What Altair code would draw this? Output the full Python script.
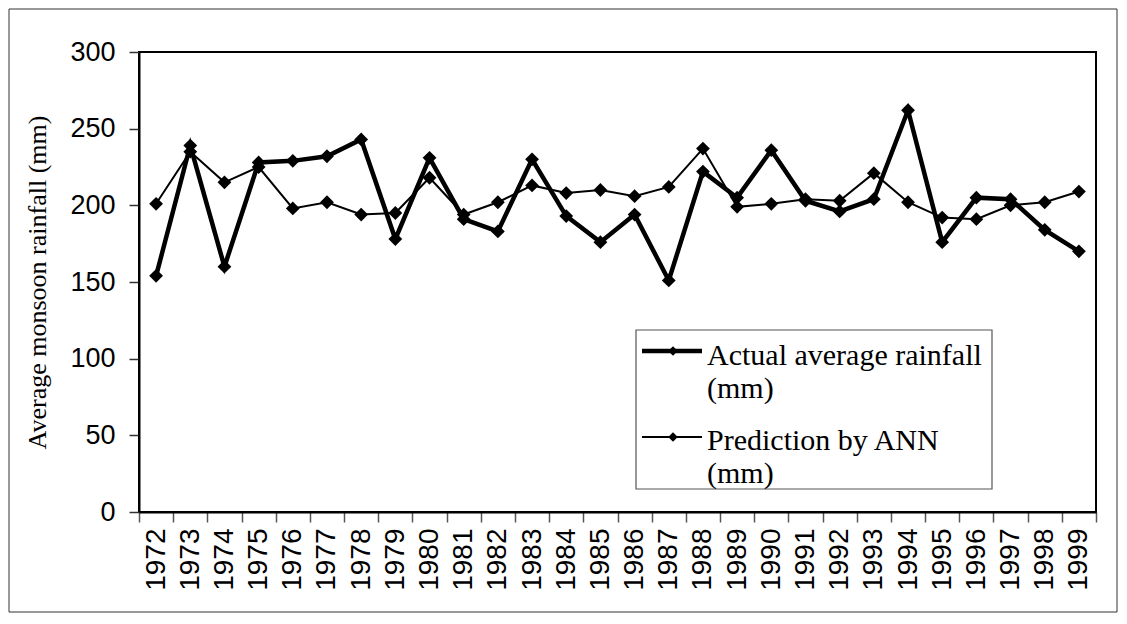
import altair as alt
import pandas as pd

# ---- data ----
years = ["1972", "1973", "1974", "1975", "1976", "1977", "1978", "1979", "1980",
         "1981", "1982", "1983", "1984", "1985", "1986", "1987", "1988", "1989",
         "1990", "1991", "1992", "1993", "1994", "1995", "1996", "1997", "1998", "1999"]
actual = [154, 239, 160, 228, 229, 232, 243, 178, 231, 191, 183, 230, 193, 176,
          194, 151, 222, 205, 236, 203, 196, 204, 262, 176, 205, 204, 184, 170]
predicted = [201, 235, 215, 225, 198, 202, 194, 195, 218, 194, 202, 213, 208, 210,
             206, 212, 237, 199, 201, 204, 203, 221, 202, 192, 191, 200, 202, 209]
series_names = ["Actual average rainfall (mm)", "Prediction by ANN (mm)"]
y_ticks = [0, 50, 100, 150, 200, 250, 300]
y_title = "Average monsoon rainfall (mm)"

df = pd.DataFrame({
    "Year": years * 2,
    "Value": actual + predicted,
    "Series": [series_names[0]] * len(years) + [series_names[1]] * len(years),
})

W, H = 957, 460
SANS = "Liberation Sans"
SERIF = "Liberation Serif"

x_enc = alt.X("Year:O", sort=years, bandPosition=0.5,
              scale=alt.Scale(type="band", paddingInner=0, paddingOuter=0),
              axis=alt.Axis(title=None, labelAngle=270, labelAlign="right",
                            labelBaseline="middle", labelFontSize=28, labelFont=SANS,
                            labelColor="black", labelPadding=6, tickBand="extent",
                            tickSize=10, tickColor="#555", tickWidth=1.5,
                            domainColor="black", domainWidth=2, grid=False,
                            labelOverlap=False))
y_enc = alt.Y("Value:Q", scale=alt.Scale(domain=[0, 300], nice=False),
              axis=alt.Axis(title=y_title, values=y_ticks, labelFontSize=27,
                            labelFont=SANS, labelColor="black", labelPadding=14,
                            tickSize=10, tickColor="#333", tickWidth=1.5,
                            domainColor="black", domainWidth=2, grid=False,
                            titleFont=SERIF, titleFontSize=26, titleFontWeight="normal",
                            titleColor="black", titleAngle=270, titleX=-94, titleY=H / 2,
                            titleAlign="center", titleBaseline="alphabetic"))

base = alt.Chart(df).encode(x=x_enc, y=y_enc)

actual_line = base.transform_filter(alt.datum.Series == series_names[0]).mark_line(
    color="black", strokeWidth=4.5,
    point=alt.OverlayMarkDef(shape="diamond", size=190, filled=True, color="black"))
pred_line = base.transform_filter(alt.datum.Series == series_names[1]).mark_line(
    color="black", strokeWidth=2,
    point=alt.OverlayMarkDef(shape="diamond", size=190, filled=True, color="black"))

# ---- legend built from the series names ----
leg = pd.DataFrame({"label": [s.replace(" (mm)", "\n(mm)") for s in series_names],
                    "Series": series_names})
one = pd.DataFrame({"k": [0]})

legend_box = alt.Chart(one).mark_rect(fill="white", stroke="#555", strokeWidth=1.2).encode(
    x=alt.value(497), x2=alt.value(853), y=alt.value(278), y2=alt.value(437))

legend_layers = []
for i, (sw, ly, ty) in enumerate([(4.5, 299, 313), (2, 385, 398)]):
    sub = leg[leg["Series"] == series_names[i]]
    legend_layers.append(alt.Chart(sub).mark_rule(color="black", strokeWidth=sw).encode(
        x=alt.value(503), x2=alt.value(563), y=alt.value(ly)))
    legend_layers.append(alt.Chart(sub).mark_point(shape="diamond", size=90, filled=True,
                                                   color="black", opacity=1).encode(
        x=alt.value(534), y=alt.value(ly)))
    legend_layers.append(alt.Chart(sub).mark_text(
        align="left", baseline="alphabetic", font=SERIF, fontSize=30, color="black",
        lineBreak="\n", lineHeight=33).encode(
        text="label:N", x=alt.value(568), y=alt.value(ty)))

outer_frame = alt.Chart(one).mark_rect(fillOpacity=0, stroke="#333", strokeWidth=1).encode(
    x=alt.value(-130), x2=alt.value(978), y=alt.value(-43), y2=alt.value(560))

chart = alt.layer(
    outer_frame, pred_line, actual_line, legend_box, *legend_layers
).properties(
    width=W, height=H,
    autosize=alt.AutoSizeParams(type="none"),
    padding={"left": 131, "top": 44, "right": 23, "bottom": 103},
    background="white",
).configure_view(stroke="black", strokeWidth=2)

chart.save("out.html", embed_options={"renderer": "svg", "actions": False})
